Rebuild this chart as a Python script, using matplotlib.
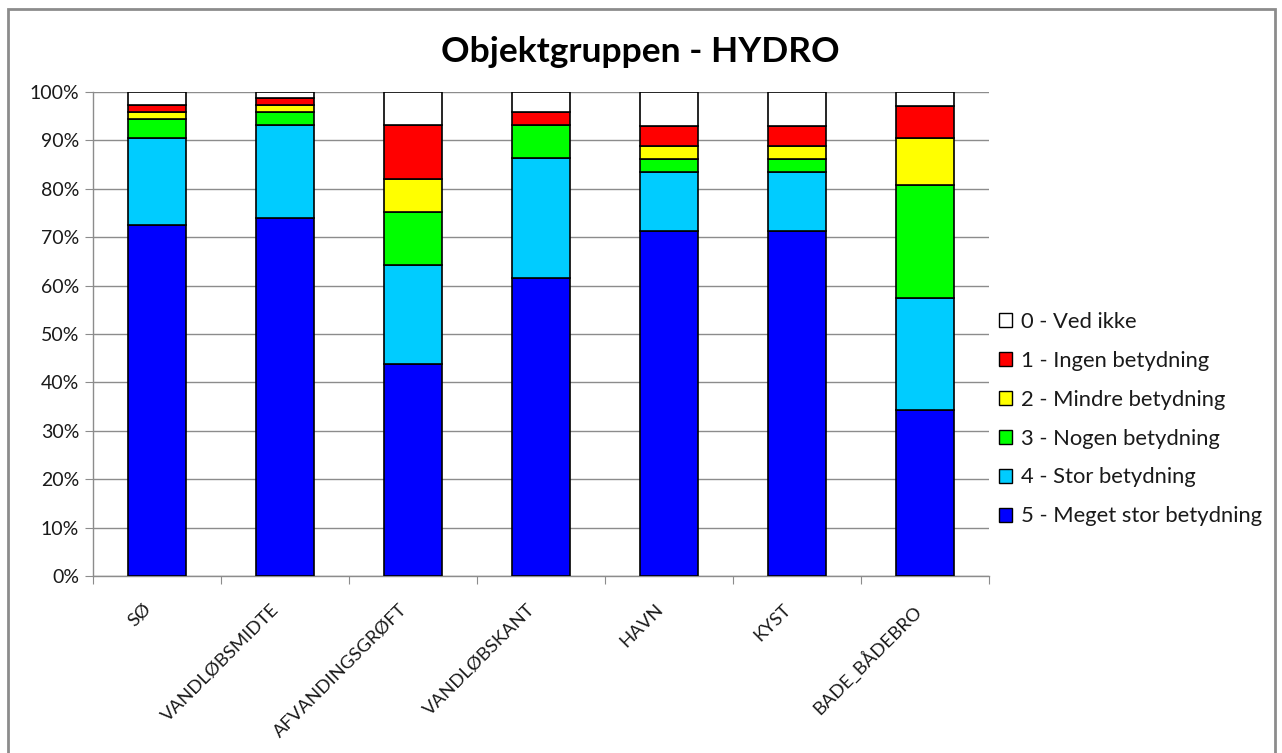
import matplotlib
matplotlib.use("Agg")
import matplotlib.pyplot as plt
from matplotlib.patches import Patch, Rectangle
from matplotlib.transforms import ScaledTranslation
import numpy as np

categories = ["SØ", "VANDLØBSMIDTE", "AFVANDINGSGRØFT", "VANDLØBSKANT", "HAVN", "KYST", "BADE_BÅDEBRO"]
series_names = ["5 - Meget stor betydning", "4 - Stor betydning", "3 - Nogen betydning",
                "2 - Mindre betydning", "1 - Ingen betydning", "0 - Ved ikke"]
colors = ["#0000FF", "#00CCFF", "#00FF00", "#FFFF00", "#FF0000", "#FFFFFF"]

# percentages per category (bottom to top)
s5 = [72.6, 74.0, 43.8, 61.6, 71.2, 71.2, 34.2]
s4 = [17.8, 19.2, 20.5, 24.7, 12.3, 12.3, 23.3]
s3 = [4.1, 2.7, 11.0, 6.8, 2.7, 2.7, 23.3]
s2 = [1.4, 1.4, 6.8, 0.0, 2.7, 2.7, 9.6]
s1 = [1.4, 1.4, 11.0, 2.7, 4.1, 4.1, 6.8]
s0 = [2.7, 1.3, 6.9, 4.2, 7.0, 7.0, 2.8]
series = [s5, s4, s3, s2, s1, s0]

plt.rcParams['font.family'] = ['Lato', 'DejaVu Sans']

W, H = 1282, 753
fig = plt.figure(figsize=(W / 100, H / 100), dpi=100)
fig.patch.set_facecolor("white")

# outer chart border
border = Rectangle((8 / W, -0.01), (1275 - 8) / W, (753 - 9) / H + 0.01, transform=fig.transFigure,
                   fill=False, edgecolor="#8C8C8C", linewidth=2.0)
fig.patches.append(border)

ax = fig.add_axes([93 / W, (H - 576) / H, (989 - 93) / W, (576 - 92) / H])

x = np.arange(len(categories))
bottom = np.zeros(len(categories))
for vals, col, name in zip(series, colors, series_names):
    v = np.array(vals)
    ax.bar(x, v, bottom=bottom, width=0.45, color=col, edgecolor="black", linewidth=1.2,
           label=name, zorder=3)
    bottom += v

ax.set_xlim(-0.5, len(categories) - 0.5)
ax.set_ylim(0, 100)
ax.set_yticks(np.arange(0, 101, 10))
ax.set_yticklabels([f"{t}%" for t in range(0, 101, 10)], fontsize=14, color="#1a1a1a")
ax.yaxis.grid(True, color="#8C8C8C", linewidth=1.0, zorder=0)
ax.set_axisbelow(True)

# category labels as rotated text
ax.set_xticks(np.arange(-0.5, len(categories), 1))
ax.set_xticklabels([])
ax.tick_params(axis="x", length=6, color="#8C8C8C", direction="out")
offset = ScaledTranslation(-14 / 100, -25 / 100, fig.dpi_scale_trans)
for i, cat in enumerate(categories):
    ax.text(i, 0, cat, transform=ax.get_xaxis_transform() + offset, rotation=45,
            ha="right", va="top", rotation_mode="anchor", fontsize=13.3, color="#1a1a1a")

ax.tick_params(axis="y", length=6, color="#8C8C8C", direction="out", pad=4)

for side in ["top", "right"]:
    ax.spines[side].set_visible(False)
for side in ["left", "bottom"]:
    ax.spines[side].set_color("#8C8C8C")
    ax.spines[side].set_linewidth(1.0)

fig.text(640 / W, 1 - 52 / H, "Objektgruppen - HYDRO", ha="center", va="center",
         fontsize=25.5, fontweight="bold", color="black")

handles = [Patch(facecolor=c, edgecolor="black", linewidth=1.0) for c in colors]
leg = fig.legend(handles[::-1], series_names[::-1], loc="upper left",
                 bbox_to_anchor=(999 / W, 1 - 312 / H), frameon=False, fontsize=15.8,
                 handlelength=0.6, handleheight=0.6, handletextpad=0.4, labelspacing=0.86,
                 borderaxespad=0, borderpad=0)
for t in leg.get_texts():
    t.set_color("#1a1a1a")

fig.savefig("out.png", dpi=100)
